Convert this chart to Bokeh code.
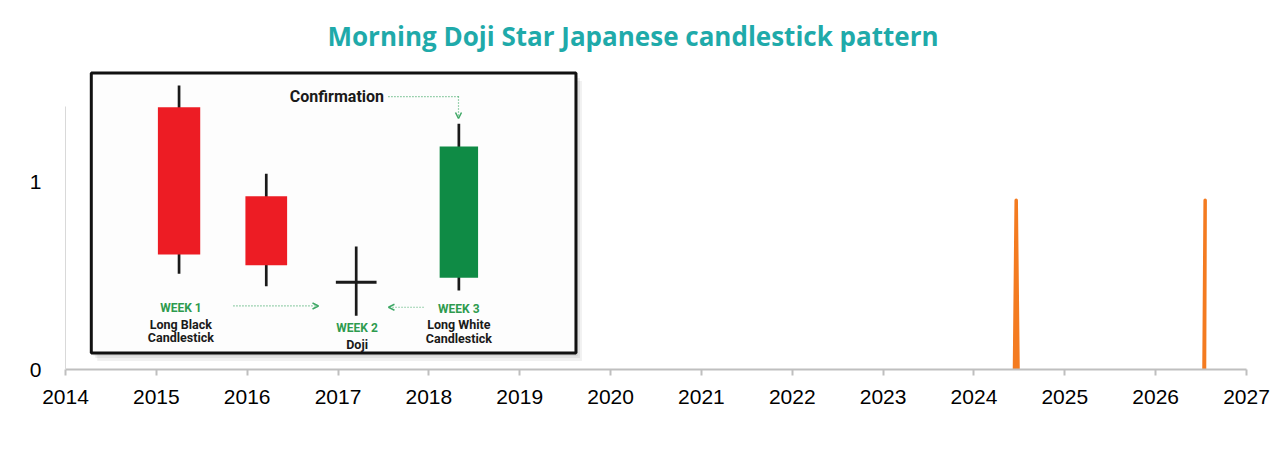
from bokeh.plotting import figure
from bokeh.models import Range1d, FixedTicker, PrintfTickFormatter, Arrow, OpenHead
from bokeh.core.properties import value
from bokeh.embed import file_html
from bokeh.resources import INLINE

# ---------------- data ----------------
title_text = "Morning Doji Star Japanese candlestick pattern"
year_ticks = list(range(2014, 2028))
y_ticks = [0, 1]

# orange series (two single-day spikes)
spike_x = [[2024.446, 2024.465, 2024.485], [2026.532, 2026.545, 2026.538]]
spike_y = [[0, 0.9, 0], [0, 0.9, 0]]

# inset picture: morning doji star candles
candle_x = [2015.25, 2016.21, 2017.20, 2018.33]
candle_open = [1.395, 0.922, 0.464, 0.488]
candle_close = [0.612, 0.555, 0.464, 1.186]
candle_high = [1.511, 1.041, 0.654, 1.307]
candle_low = [0.509, 0.443, 0.286, 0.420]
candle_color = ["#ED1C24", "#ED1C24", "#1A1A1A", "#0F8B45"]
candle_width = [0.466, 0.459, 0.448, 0.423]

week_labels = ["WEEK 1", "WEEK 2", "WEEK 3"]
week_x = [2015.27, 2017.21, 2018.33]
week_y = [0.327, 0.220, 0.324]
desc_line1 = ["Long Black", "Doji", "Long White"]
desc_line2 = ["Candlestick", "", "Candlestick"]
confirm_text = "Confirmation"

# ---------------- layout constants ----------------
PX = 1 / 90.85   # one pixel in years
PY = 1 / 188.0   # one pixel in value units
box_left, box_right, box_top, box_bottom = 2014.284, 2019.619, 1.577, 0.0878
GREEN_TXT = "#2E9B4E"
GREEN_ARR = "#3FA866"
INSET_FONT = value("Roboto")

p = figure(width=1272, height=440,
           x_range=Range1d(2014, 2027), y_range=Range1d(0, 1.633),
           output_backend="svg", toolbar_location=None,
           min_border_left=65, min_border_right=26,
           min_border_top=62, min_border_bottom=71,
           background_fill_color="white", border_fill_color="white",
           outline_line_color=None)
p.grid.visible = False

p.title.text = title_text
p.title.text_font = "Open Sans"
p.title.text_font_style = "bold"
p.title.text_font_size = "26px"
p.title.text_color = "#1FAAAA"
p.title.align = "left"
p.title.offset = 262
p.title.standoff = 17

xa = p.xaxis[0]
xa.ticker = FixedTicker(ticks=year_ticks)
xa.formatter = PrintfTickFormatter(format="%d")
xa.axis_line_color = "#BFBFBF"
xa.axis_line_width = 2
xa.major_tick_line_color = "#BFBFBF"
xa.major_tick_line_width = 2
xa.major_tick_out = 6
xa.major_tick_in = 0
xa.minor_tick_out = 0
xa.minor_tick_in = 0
xa.major_label_text_font = "Liberation Sans"
xa.major_label_text_font_size = "21px"
xa.major_label_text_color = "#000000"
xa.major_label_standoff = 14

ya = p.yaxis[0]
ya.ticker = FixedTicker(ticks=y_ticks)
ya.bounds = (0, 1.4)
ya.axis_line_color = "#D9D9D9"
ya.axis_line_width = 1
ya.major_tick_out = 0
ya.major_tick_in = 0
ya.minor_tick_out = 0
ya.minor_tick_in = 0
ya.major_label_text_font = "Liberation Sans"
ya.major_label_text_font_size = "21px"
ya.major_label_text_color = "#000000"
ya.major_label_standoff = 24

# ---------------- inset picture ----------------
for dx, dy, a in [(2, 3, 0.10), (4, 5, 0.12), (6, 8, 0.10)]:
    p.quad(left=box_left + dx * PX, right=box_right + dx * PX,
           top=box_top - dy * PY, bottom=box_bottom - dy * PY,
           fill_color="#777777", fill_alpha=a, line_color=None)
p.quad(left=box_left, right=box_right, top=box_top, bottom=box_bottom,
       fill_color="#FDFDFD", line_color="#111111", line_width=3)

# wicks
p.segment(x0=candle_x, y0=candle_low, x1=candle_x, y1=candle_high,
          line_color="#1A1A1A", line_width=2.7)
# bodies
idx = [i for i in range(len(candle_x)) if candle_open[i] != candle_close[i]]
p.vbar(x=[candle_x[i] for i in idx], width=[candle_width[i] for i in idx],
       top=[max(candle_open[i], candle_close[i]) for i in idx],
       bottom=[min(candle_open[i], candle_close[i]) for i in idx],
       fill_color=[candle_color[i] for i in idx], line_color=None)
dj = [i for i in range(len(candle_x)) if candle_open[i] == candle_close[i]]
p.segment(x0=[candle_x[i] - candle_width[i] / 2 for i in dj], y0=[candle_open[i] for i in dj],
          x1=[candle_x[i] + candle_width[i] / 2 for i in dj], y1=[candle_close[i] for i in dj],
          line_color=[candle_color[i] for i in dj], line_width=3)

# texts
p.text(x=week_x, y=week_y, text=week_labels, text_font=INSET_FONT,
       text_font_style="bold", text_font_size="12px", text_color=GREEN_TXT,
       text_align="center", text_baseline="middle")
p.text(x=week_x, y=[w - 0.085 for w in week_y], text=desc_line1, text_font=INSET_FONT,
       text_font_style="bold", text_font_size="12.5px", text_color="#1A1A1A",
       text_align="center", text_baseline="middle")
p.text(x=week_x, y=[w - 0.158 for w in week_y], text=desc_line2, text_font=INSET_FONT,
       text_font_style="bold", text_font_size="12.5px", text_color="#1A1A1A",
       text_align="center", text_baseline="middle")
p.text(x=[2016.988], y=[1.452], text=[confirm_text], text_font=INSET_FONT,
       text_font_style="bold", text_font_size="16px", text_color="#1A1A1A",
       text_align="center", text_baseline="middle")

# dotted arrows
def head():
    return OpenHead(size=6, line_color=GREEN_ARR, line_width=1.5)

p.add_layout(Arrow(end=head(), x_start=2015.849, y_start=0.338, x_end=2016.785, y_end=0.338,
                   line_color=GREEN_ARR, line_width=1.2, line_dash="1 2"))
p.add_layout(Arrow(end=head(), x_start=2017.941, y_start=0.331, x_end=2017.555, y_end=0.331,
                   line_color=GREEN_ARR, line_width=1.2, line_dash="1 2"))
p.line(x=[2017.555, 2018.326], y=[1.452, 1.452], line_color=GREEN_ARR,
       line_width=1.2, line_dash="1 2")
p.add_layout(Arrow(end=head(), x_start=2018.326, y_start=1.452, x_end=2018.326, y_end=1.335,
                   line_color=GREEN_ARR, line_width=1.2, line_dash="1 2"))

# ---------------- orange series ----------------
p.multi_line(xs=spike_x, ys=spike_y, line_color="#F47B20", line_width=3.5,
             line_join="round")

open("out.html", "w").write(file_html(p, INLINE))
